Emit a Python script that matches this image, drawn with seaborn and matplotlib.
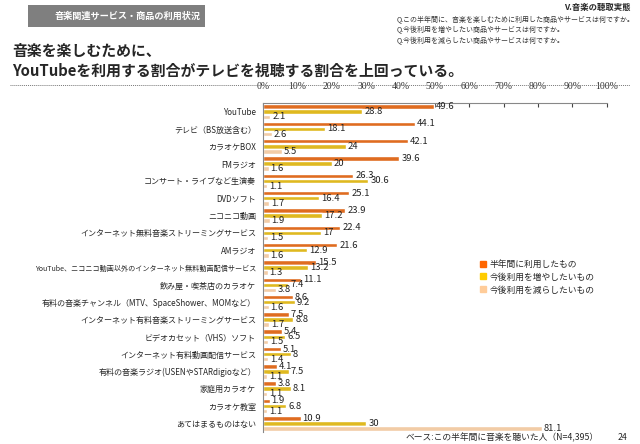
import pandas as pd
import seaborn as sns
from matplotlib import pyplot as plt
from matplotlib.patches import Rectangle
from matplotlib.lines import Line2D

items = [
    "YouTube",
    "テレビ（BS放送含む）",
    "カラオケBOX",
    "FMラジオ",
    "コンサート・ライブなど生演奏",
    "DVDソフト",
    "ニコニコ動画",
    "インターネット無料音楽ストリーミングサービス",
    "AMラジオ",
    "YouTube、ニコニコ動画以外のインターネット無料動画配信サービス",
    "飲み屋・喫茶店のカラオケ",
    "有料の音楽チャンネル（MTV、SpaceShower、MOMなど）",
    "インターネット有料音楽ストリーミングサービス",
    "ビデオカセット（VHS）ソフト",
    "インターネット有料動画配信サービス",
    "有料の音楽ラジオ(USENやSTARdigioなど）",
    "家庭用カラオケ",
    "カラオケ教室",
    "あてはまるものはない",
]
used = [49.6, 44.1, 42.1, 39.6, 26.3, 25.1, 23.9, 22.4, 21.6, 15.5, 11.1, 8.6, 7.5, 5.4, 5.1, 4.1, 3.8, 1.9, 10.9]
more = [28.8, 18.1, 24, 20, 30.6, 16.4, 17.2, 17, 12.9, 13.2, 7.4, 9.2, 8.8, 6.5, 8, 7.5, 8.1, 6.8, 30]
less = [2.1, 2.6, 5.5, 1.6, 1.1, 1.7, 1.9, 1.5, 1.6, 1.3, 3.8, 1.6, 1.7, 1.5, 1.4, 1.1, 1.1, 1.1, 81.1]
series = ["半年間に利用したもの", "今後利用を増やしたいもの", "今後利用を減らしたいもの"]
colors = ["#FF6600", "#FFCC00", "#FFCC99"]
ticks = [0, 10, 20, 30, 40, 50, 60, 70, 80, 90, 100]

rows = []
for s, vals in zip(series, [used, more, less]):
    for it, v in zip(items, vals):
        rows.append({"item": it, "series": s, "value": v})
df = pd.DataFrame(rows)

sns.set_style("white")
plt.rcParams["font.family"] = ["Noto Sans CJK JP", "DejaVu Sans"]

fig = plt.figure(figsize=(6.4, 4.44), dpi=100)
ax = fig.add_axes([0.411, 0.027, 0.537, 0.741])

sns.barplot(data=df, x="value", y="item", hue="series", palette=colors,
            orient="h", width=0.88, gap=0.12, ax=ax, legend=False)

for c in ax.containers:
    ax.bar_label(c, labels=[f"{v:g}" for v in c.datavalues], padding=1.5,
                 fontsize=6.8, color="#222222")

ax.set_xlim(0, 100)
ax.set_xticks(ticks)
ax.set_xticklabels([f"{t}%" for t in ticks], family="Liberation Serif", fontsize=7)
ax.xaxis.tick_top()
ax.tick_params(axis="x", direction="in", length=3, pad=9, colors="#444444",
               labelcolor="#333333")
ax.tick_params(axis="y", length=0, labelsize=5.8, pad=5)
for lab in ax.get_yticklabels():
    # this one is squeezed in the original
    if lab.get_text().startswith("YouTube、"):
        lab.set_fontsize(5.1)
ax.set_xlabel("")
ax.set_ylabel("")
for side in ["bottom", "right"]:
    ax.spines[side].set_visible(False)
for side in ["top", "left"]:
    ax.spines[side].set_color("#888888")
    ax.spines[side].set_linewidth(0.8)

# legend
handles = [Line2D([], [], marker="s", linestyle="", color=c, markersize=4) for c in colors]
fig.legend(handles, series, loc="upper left", bbox_to_anchor=(0.735, 0.433),
           frameon=False, fontsize=6.3, handletextpad=0.3, labelspacing=0.45,
           handlelength=1)

# header block
fig.patches.append(Rectangle((0.044, 0.939), 0.277, 0.050, transform=fig.transFigure,
                             facecolor="#7f7f7f", edgecolor="none"))
fig.text(0.199, 0.964, "音楽関連サービス・商品の利用状況", color="white",
         fontsize=6.6, fontweight="bold", ha="center", va="center")
fig.text(0.985, 0.982, "V.音楽の聴取実態", fontsize=6, fontweight="bold",
         style="italic", ha="right", va="center")
for i, q in enumerate(["Q.この半年間に、音楽を楽しむために利用した商品やサービスは何ですか。",
                       "Q.今後利用を増やしたい商品やサービスは何ですか。",
                       "Q.今後利用を減らしたい商品やサービスは何ですか。"]):
    fig.text(0.62, 0.957 - i * 0.025, q, fontsize=5, style="italic",
             color="#333333", ha="left", va="center")

fig.text(0.019, 0.886, "音楽を楽しむために、", fontsize=10.7, fontweight="bold",
         ha="left", va="center")
fig.text(0.019, 0.840, "YouTubeを利用する割合がテレビを視聴する割合を上回っている。",
         fontsize=10.7, fontweight="bold", ha="left", va="center")
fig.add_artist(Line2D([0.016, 0.985], [0.808, 0.808], transform=fig.transFigure,
                      color="#777777", linestyle=(0, (1, 1)), linewidth=0.7))

fig.text(0.633, 0.015, "ベース:この半年間に音楽を聴いた人（N=4,395）",
         fontsize=6.3, ha="left", va="center")
fig.text(0.972, 0.015, "24", fontsize=6.3, ha="center", va="center")

fig.savefig("out.png", dpi=100)
